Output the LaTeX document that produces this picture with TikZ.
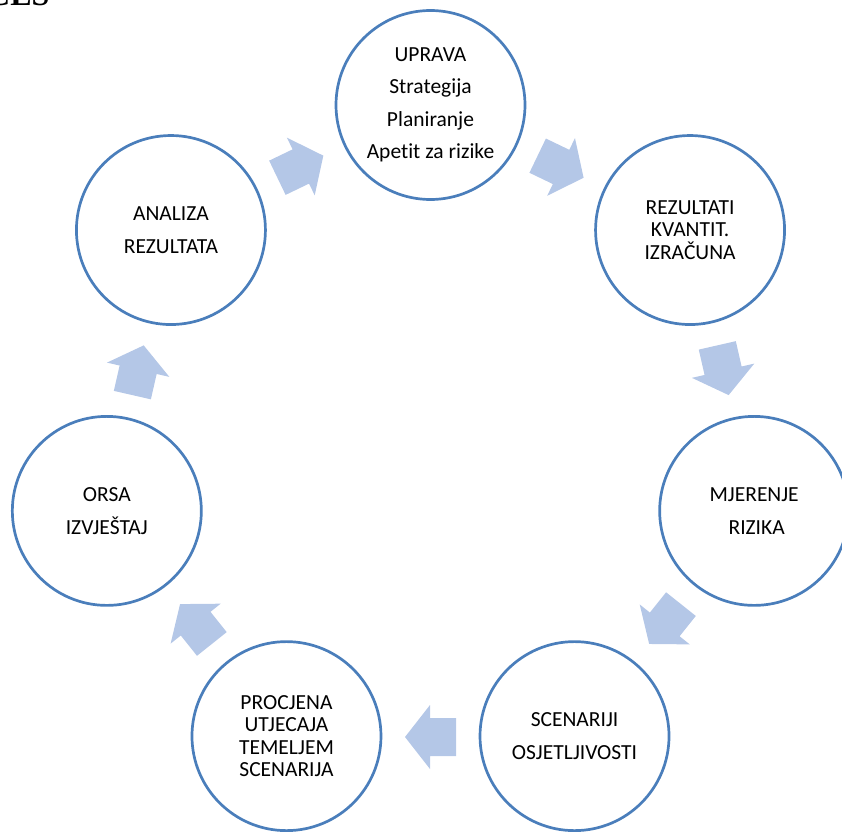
\documentclass[tikz,border=0pt]{standalone}
\usepackage{fontspec}
\setmainfont[Ligatures=NoCommon]{Carlito}
\newfontfamily\headfont{Liberation Serif}
\usetikzlibrary{calc}

\definecolor{ringblue}{HTML}{4A7EBB}
\definecolor{arrowblue}{HTML}{B4C7E7}
\tikzset{
 bub/.style={circle, draw=ringblue, line width=2.7pt, minimum size=189pt, align=center, inner sep=1pt, font=\fontsize{21.5}{22.5}\selectfont},
 bubloose/.style={bub, font=\fontsize{21.5}{32.5}\selectfont},
 blockarrow/.style={fill=arrowblue}
}

\begin{document}
\begin{tikzpicture}[x=1pt,y=1pt]
\useasboundingbox (-430.5,-394) rectangle (411.5,437);
% cut heading from the page above
\node[anchor=base west, inner sep=0, font=\headfont\bfseries\fontsize{32}{32}\selectfont] (head) at (-443.5,431.5) {CES};
% the seven steps round the ring
\node[bubloose] (uprava) at (90:332) {UPRAVA\\Strategija\\Planiranje\\Apetit za rizike};
\node[bub] (rezultati) at (38.57:332) {REZULTATI\\KVANTIT.\\IZRAČUNA};
\node[bubloose] (mjerenje) at (-12.86:332) {MJERENJE\\\hspace{5pt}RIZIKA};
\node[bubloose] (scenariji) at (-64.29:332) {SCENARIJI\\OSJETLJIVOSTI};
\node[bub] (procjena) at (-115.71:332) {PROCJENA\\UTJECAJA\\TEMELJEM\\SCENARIJA};
\node[bubloose] (orsa) at (-167.14:332) {ORSA\\IZVJEŠTAJ};
\node[bubloose] (analiza) at (141.43:332) {ANALIZA\\REZULTATA};
% block arrows between the steps, clockwise
\foreach \a in {64.29, 12.86, -38.57, -90, -141.43, -192.86, 115.71} {
 \fill[blockarrow, shift={(\a:300)}, rotate=\a-90]
  (-25.5,-19) -- (0.5,-19) -- (0.5,-32) -- (25.5,0) -- (0.5,32) -- (0.5,19) -- (-25.5,19) -- cycle;
}
\end{tikzpicture}
\end{document}
